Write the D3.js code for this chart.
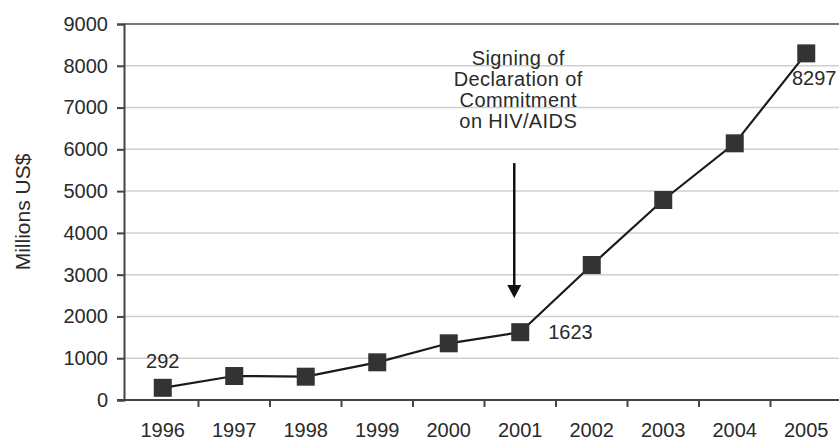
<!DOCTYPE html>
<html>
<head>
<meta charset="utf-8">
<script src="https://cdn.jsdelivr.net/npm/d3@7"></script>
<style>
  html, body { margin: 0; padding: 0; background: #fff; }
  svg { display: block; font-family: "Liberation Sans", Arial, sans-serif; }
</style>
</head>
<body>
<svg id="chart" width="839" height="443"></svg>
<script>
const years = ["1996","1997","1998","1999","2000","2001","2002","2003","2004","2005"];
const funding = [292, 574, 558, 902, 1357, 1623, 3231, 4787, 6144, 8297];
const yTicks = [0,1000,2000,3000,4000,5000,6000,7000,8000,9000];
const labelled = [
  {year: "1996", value: 292, text: "292"},
  {year: "2001", value: 1623, text: "1623"},
  {year: "2005", value: 8297, text: "8297"}
];
const annotationLines = ["Signing of", "Declaration of", "Commitment", "on HIV/AIDS"];
const yLabel = "Millions US$";

const svg = d3.select("#chart");
const W = 839, H = 443;
const axisX = 124;
const textCol = "#2a2a2a";

const x = d3.scaleBand().domain(years).range([127, 842]).padding(0);
const y = d3.scaleLinear().domain([0, 9000]).range([400, 24]);
const cx = d => x(d) + x.bandwidth() / 2;

// gridlines
svg.append("g").selectAll("line").data(yTicks.filter(t => t > 0 && t < 9000)).join("line")
  .attr("x1", axisX).attr("x2", W)
  .attr("y1", d => y(d)).attr("y2", d => y(d))
  .attr("stroke", "#cfcfcf").attr("stroke-width", 1.5);
// top border line at 9000
svg.append("line").attr("x1", axisX).attr("x2", W)
  .attr("y1", y(9000)).attr("y2", y(9000))
  .attr("stroke", "#7a7a7a").attr("stroke-width", 2);

// y axis
const yAxis = d3.axisLeft(y).tickValues(yTicks).tickSize(7).tickPadding(9).tickFormat(d3.format("d"));
const yg = svg.append("g").attr("transform", `translate(${axisX},0)`).call(yAxis);
yg.select(".domain").attr("stroke", "#444").attr("stroke-width", 2);
yg.selectAll(".tick line").attr("stroke", "#444").attr("stroke-width", 2);
yg.selectAll(".tick text").attr("font-size", 20).attr("fill", textCol)
  .attr("font-family", "Liberation Sans, Arial, sans-serif");

// x axis line
svg.append("line").attr("x1", axisX - 7).attr("x2", W)
  .attr("y1", y(0)).attr("y2", y(0))
  .attr("stroke", "#444").attr("stroke-width", 2);
// x ticks at band boundaries
svg.append("g").selectAll("line").data(years.slice(0, years.length - 1)).join("line")
  .attr("x1", d => x(d) + x.bandwidth()).attr("x2", d => x(d) + x.bandwidth())
  .attr("y1", y(0)).attr("y2", y(0) + 7)
  .attr("stroke", "#444").attr("stroke-width", 2);
// x labels
svg.append("g").selectAll("text").data(years).join("text")
  .attr("x", d => cx(d)).attr("y", 437)
  .attr("text-anchor", "middle").attr("font-size", 20).attr("fill", textCol)
  .text(d => d);

// y axis label
svg.append("text")
  .attr("transform", `translate(30,212) rotate(-90)`)
  .attr("text-anchor", "middle").attr("font-size", 21).attr("fill", textCol)
  .text(yLabel);

// line
const data = years.map((yr, i) => ({year: yr, value: funding[i]}));
svg.append("path").datum(data)
  .attr("fill", "none").attr("stroke", "#1a1a1a").attr("stroke-width", 2.2)
  .attr("d", d3.line().x(d => cx(d.year)).y(d => y(d.value)));

// markers
const ms = 18;
svg.append("g").selectAll("rect").data(data).join("rect")
  .attr("x", d => cx(d.year) - ms / 2).attr("y", d => y(d.value) - ms / 2)
  .attr("width", ms).attr("height", ms).attr("fill", "#333");

// data labels
const lab = svg.append("g").attr("font-size", 20).attr("fill", textCol);
lab.append("text").attr("x", cx("1996")).attr("y", y(292) - 20)
  .attr("text-anchor", "middle").text(labelled[0].text);
lab.append("text").attr("x", cx("2001") + 28).attr("y", y(1623) + 7)
  .attr("text-anchor", "start").text(labelled[1].text);
lab.append("text").attr("x", cx("2005") + 8).attr("y", y(8297) + 32)
  .attr("text-anchor", "middle").text(labelled[2].text);

// annotation
const ax = cx("2001") - 6;
const ann = svg.append("text").attr("text-anchor", "middle")
  .attr("font-size", 20).attr("letter-spacing", 0.4).attr("fill", textCol);
annotationLines.forEach((t, i) => {
  ann.append("tspan").attr("x", ax + 4).attr("y", 65 + i * 21).text(t);
});
const arrowTop = y(5670), arrowTip = y(2440);
svg.append("line").attr("x1", ax).attr("x2", ax)
  .attr("y1", arrowTop).attr("y2", arrowTip - 10)
  .attr("stroke", "#111").attr("stroke-width", 2.5);
svg.append("path")
  .attr("d", `M${ax - 7},${arrowTip - 13} L${ax + 7},${arrowTip - 13} L${ax},${arrowTip} Z`)
  .attr("fill", "#111");
</script>
</body>
</html>
